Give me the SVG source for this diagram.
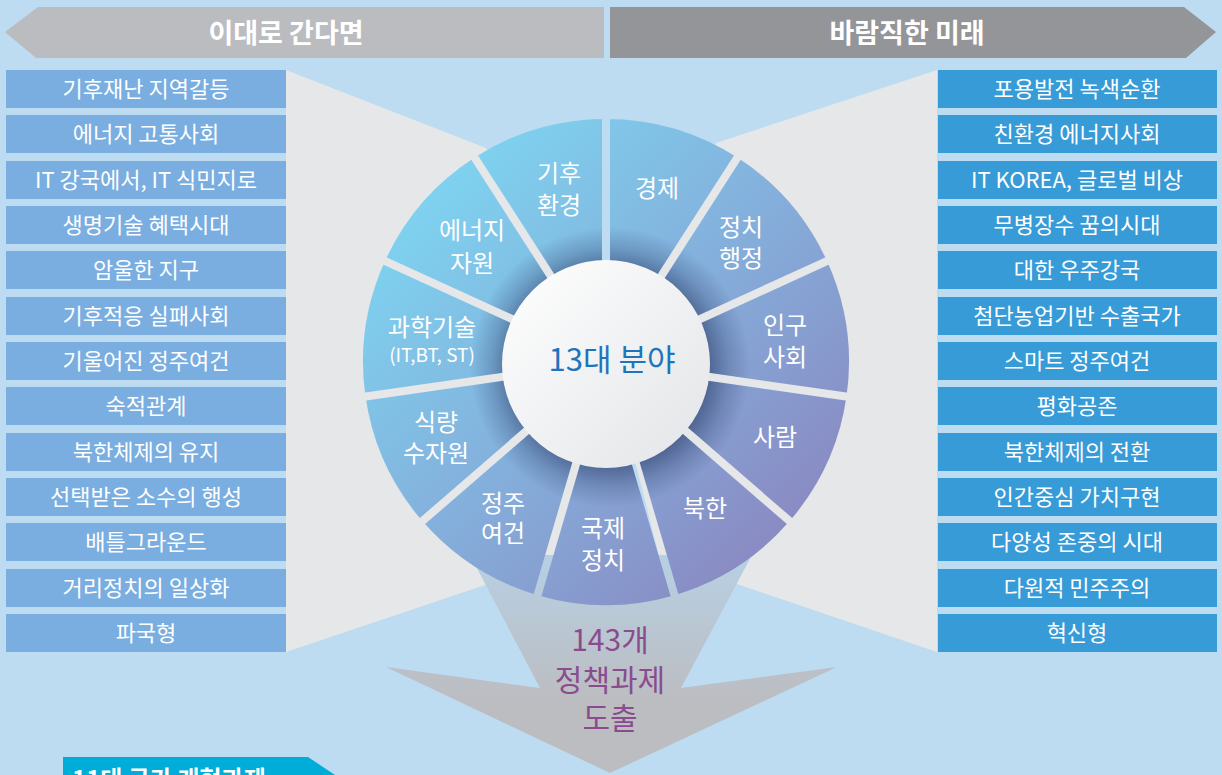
<svg xmlns="http://www.w3.org/2000/svg" width="1222" height="775" viewBox="0 0 1222 775">
<defs>
<style>
.t{font-family:"Noto Sans CJK KR","Noto Sans",sans-serif;fill:#fff;text-anchor:middle}
.box{font-size:22px}
.lb{fill:#7aaee0}
.rb{fill:#379bd8}
.seg{font-size:24px}
.ban{font-size:27px;font-weight:bold}
.out{font-size:30px;fill:#8a4c8e}
</style>
<linearGradient id="wheelGrad" gradientUnits="userSpaceOnUse" x1="400" y1="160" x2="820" y2="580">
<stop offset="0" stop-color="#7dd8f3"/>
<stop offset="0.5" stop-color="#84aedb"/>
<stop offset="1" stop-color="#8b82bd"/>
</linearGradient>
<radialGradient id="shadowGrad" gradientUnits="userSpaceOnUse" cx="610" cy="367" r="140">
<stop offset="0.7" stop-color="#2a3c68" stop-opacity="0.6"/>
<stop offset="0.85" stop-color="#2a3c68" stop-opacity="0.25"/>
<stop offset="1" stop-color="#2a3c68" stop-opacity="0"/>
</radialGradient>
<linearGradient id="coreGrad" x1="0" y1="0" x2="1" y2="1">
<stop offset="0" stop-color="#ffffff"/>
<stop offset="1" stop-color="#e2e4e7"/>
</linearGradient>
<linearGradient id="shaftGrad" gradientUnits="userSpaceOnUse" x1="0" y1="555" x2="0" y2="700">
<stop offset="0" stop-color="#b7d0e4"/>
<stop offset="1" stop-color="#bcbdc1"/>
</linearGradient>
<mask id="gapMask" maskUnits="userSpaceOnUse" x="0" y="0" width="1222" height="775">
<rect x="0" y="0" width="1222" height="775" fill="#fff"/>
<g fill="#000">
<rect x="602" y="100" width="8" height="262" transform="rotate(0 606 362)"/>
<rect x="602" y="100" width="8" height="262" transform="rotate(32.7273 606 362)"/>
<rect x="602" y="100" width="8" height="262" transform="rotate(65.4545 606 362)"/>
<rect x="602" y="100" width="8" height="262" transform="rotate(98.1818 606 362)"/>
<rect x="602" y="100" width="8" height="262" transform="rotate(130.9091 606 362)"/>
<rect x="602" y="100" width="8" height="262" transform="rotate(163.6364 606 362)"/>
<rect x="602" y="100" width="8" height="262" transform="rotate(196.3636 606 362)"/>
<rect x="602" y="100" width="8" height="262" transform="rotate(229.0909 606 362)"/>
<rect x="602" y="100" width="8" height="262" transform="rotate(261.8182 606 362)"/>
<rect x="602" y="100" width="8" height="262" transform="rotate(294.5455 606 362)"/>
<rect x="602" y="100" width="8" height="262" transform="rotate(327.2727 606 362)"/>
</g>
</mask>
</defs>

<rect id="background" x="0" y="0" width="1222" height="775" fill="#bddbf1"/>

<g id="funnels" fill="#e6e7e8">
<polygon points="286,70 486,148 602,362 560,560 500,580 286,652"/>
<polygon points="937,70 716,143 610,362 660,560 719,578 937,652"/>
</g>

<g id="banner-left">
<polygon points="5,32 38,7 604,7 604,58 36,58" fill="#bbbcbf"/>
<text class="t ban" x="286" y="43">이대로 간다면</text>
</g>
<g id="banner-right">
<polygon points="610,7 1184,7 1216,32 1186,58 610,58" fill="#939598"/>
<text class="t ban" x="907" y="43">바람직한 미래</text>
</g>

<g id="left-list">
<g id="l1"><rect class="lb" x="6" y="70" width="280" height="38"/><text class="t box" x="146" y="97">기후재난 지역갈등</text></g>
<g id="l2"><rect class="lb" x="6" y="115" width="280" height="38"/><text class="t box" x="146" y="142">에너지 고통사회</text></g>
<g id="l3"><rect class="lb" x="6" y="161" width="280" height="38"/><text class="t box" x="146" y="188">IT 강국에서, IT 식민지로</text></g>
<g id="l4"><rect class="lb" x="6" y="206" width="280" height="38"/><text class="t box" x="146" y="233">생명기술 혜택시대</text></g>
<g id="l5"><rect class="lb" x="6" y="251" width="280" height="38"/><text class="t box" x="146" y="278">암울한 지구</text></g>
<g id="l6"><rect class="lb" x="6" y="297" width="280" height="38"/><text class="t box" x="146" y="324">기후적응 실패사회</text></g>
<g id="l7"><rect class="lb" x="6" y="342" width="280" height="38"/><text class="t box" x="146" y="369">기울어진 정주여건</text></g>
<g id="l8"><rect class="lb" x="6" y="387" width="280" height="38"/><text class="t box" x="146" y="414">숙적관계</text></g>
<g id="l9"><rect class="lb" x="6" y="433" width="280" height="38"/><text class="t box" x="146" y="460">북한체제의 유지</text></g>
<g id="l10"><rect class="lb" x="6" y="478" width="280" height="38"/><text class="t box" x="146" y="505">선택받은 소수의 행성</text></g>
<g id="l11"><rect class="lb" x="6" y="523" width="280" height="38"/><text class="t box" x="146" y="550">배틀그라운드</text></g>
<g id="l12"><rect class="lb" x="6" y="569" width="280" height="38"/><text class="t box" x="146" y="596">거리정치의 일상화</text></g>
<g id="l13"><rect class="lb" x="6" y="614" width="280" height="38"/><text class="t box" x="146" y="641">파국형</text></g>
</g>

<g id="right-list">
<g id="r1"><rect class="rb" x="938" y="70" width="279" height="38"/><text class="t box" x="1077" y="97">포용발전 녹색순환</text></g>
<g id="r2"><rect class="rb" x="938" y="115" width="279" height="38"/><text class="t box" x="1077" y="142">친환경 에너지사회</text></g>
<g id="r3"><rect class="rb" x="938" y="161" width="279" height="38"/><text class="t box" x="1077" y="188">IT KOREA, 글로벌 비상</text></g>
<g id="r4"><rect class="rb" x="938" y="206" width="279" height="38"/><text class="t box" x="1077" y="233">무병장수 꿈의시대</text></g>
<g id="r5"><rect class="rb" x="938" y="251" width="279" height="38"/><text class="t box" x="1077" y="278">대한 우주강국</text></g>
<g id="r6"><rect class="rb" x="938" y="297" width="279" height="38"/><text class="t box" x="1077" y="324">첨단농업기반 수출국가</text></g>
<g id="r7"><rect class="rb" x="938" y="342" width="279" height="38"/><text class="t box" x="1077" y="369">스마트 정주여건</text></g>
<g id="r8"><rect class="rb" x="938" y="387" width="279" height="38"/><text class="t box" x="1077" y="414">평화공존</text></g>
<g id="r9"><rect class="rb" x="938" y="433" width="279" height="38"/><text class="t box" x="1077" y="460">북한체제의 전환</text></g>
<g id="r10"><rect class="rb" x="938" y="478" width="279" height="38"/><text class="t box" x="1077" y="505">인간중심 가치구현</text></g>
<g id="r11"><rect class="rb" x="938" y="523" width="279" height="38"/><text class="t box" x="1077" y="550">다양성 존중의 시대</text></g>
<g id="r12"><rect class="rb" x="938" y="569" width="279" height="38"/><text class="t box" x="1077" y="596">다원적 민주주의</text></g>
<g id="r13"><rect class="rb" x="938" y="614" width="279" height="38"/><text class="t box" x="1077" y="641">혁신형</text></g>
</g>

<g id="connectors">
<g id="output-arrow">
<polygon points="470,555 540,688 386,667 610,773 837,667 681,688 752,555" fill="url(#shaftGrad)"/>
<text class="t out" x="610" y="651">143개<tspan x="610" dy="40">정책과제</tspan><tspan x="610" dy="38">도출</tspan></text>
</g>
</g>

<g id="wheel">
<g mask="url(#gapMask)" fill="url(#wheelGrad)">
<path id="seg-economy" d="M606,362 L606,119 A243,243 0 0 1 737.4,157.6 Z"/>
<path id="seg-politics" d="M606,362 L737.4,157.6 A243,243 0 0 1 827,261.1 Z"/>
<path id="seg-population" d="M606,362 L827,261.1 A243,243 0 0 1 846.5,396.6 Z"/>
<path id="seg-people" d="M606,362 L846.5,396.6 A243,243 0 0 1 789.6,521.1 Z"/>
<path id="seg-nk" d="M606,362 L789.6,521.1 A243,243 0 0 1 674.5,595.2 Z"/>
<path id="seg-intl" d="M606,362 L674.5,595.2 A243,243 0 0 1 537.5,595.2 Z"/>
<path id="seg-settle" d="M606,362 L537.5,595.2 A243,243 0 0 1 422.4,521.1 Z"/>
<path id="seg-food" d="M606,362 L422.4,521.1 A243,243 0 0 1 365.5,396.6 Z"/>
<path id="seg-sci" d="M606,362 L365.5,396.6 A243,243 0 0 1 385,261.1 Z"/>
<path id="seg-energy" d="M606,362 L385,261.1 A243,243 0 0 1 474.6,157.6 Z"/>
<path id="seg-climate" d="M606,362 L474.6,157.6 A243,243 0 0 1 606,119 Z"/>
<circle cx="610" cy="367" r="140" fill="url(#shadowGrad)"/>
</g>
<g id="seg-labels">
<g id="lbl-climate"><text class="t seg" x="559" y="182">기후<tspan x="559" dy="32">환경</tspan></text></g>
<g id="lbl-economy"><text class="t seg" x="657" y="197">경제</text></g>
<g id="lbl-politics"><text class="t seg" x="741" y="236">정치<tspan x="741" dy="31">행정</tspan></text></g>
<g id="lbl-population"><text class="t seg" x="785" y="334">인구<tspan x="785" dy="32">사회</tspan></text></g>
<g id="lbl-people"><text class="t seg" x="775" y="446">사람</text></g>
<g id="lbl-nk"><text class="t seg" x="705" y="517">북한</text></g>
<g id="lbl-intl"><text class="t seg" x="603" y="537">국제<tspan x="603" dy="32">정치</tspan></text></g>
<g id="lbl-settle"><text class="t seg" x="503" y="512">정주<tspan x="503" dy="30">여건</tspan></text></g>
<g id="lbl-food"><text class="t seg" x="436" y="431">식량<tspan x="436" dy="31">수자원</tspan></text></g>
<g id="lbl-sci"><text class="t seg" x="432" y="336">과학기술<tspan x="432" dy="26" style="font-size:19px">(IT,BT, ST)</tspan></text></g>
<g id="lbl-energy"><text class="t seg" x="472" y="239">에너지<tspan x="472" dy="33">자원</tspan></text></g>
</g>
<g id="core">
<circle cx="606" cy="364" r="104" fill="url(#coreGrad)"/>
<text class="t" x="612" y="371" style="font-size:31px;fill:#1f75bc">13대 분야</text>
</g>
</g>

<g id="reform-banner">
<polygon points="63,757 308,757 338,777 63,777" fill="#00acd8"/>
<text x="72" y="788" style="font-family:'Noto Sans CJK KR','Noto Sans',sans-serif;font-size:24px;font-weight:bold;fill:#fff">11대 국가 개혁과제</text>
</g>
</svg>
